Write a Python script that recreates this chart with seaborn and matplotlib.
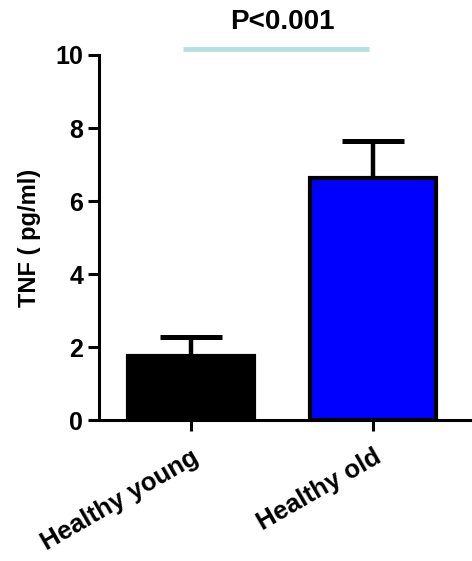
import matplotlib
matplotlib.use('Agg')
import matplotlib.pyplot as plt
import seaborn as sns
import pandas as pd

# Datos
groups = ['Healthy young', 'Healthy old']
means = [1.75, 6.62]
sems = [0.52, 1.03]
bar_colors = ['#000000', '#0000FF']
p_label = 'P<0.001'

sns.set_style('ticks')
plt.rcParams['font.family'] = ['Liberation Sans', 'DejaVu Sans']
plt.rcParams['font.weight'] = 'bold'
plt.rcParams['text.color'] = 'black'
plt.rcParams['axes.labelcolor'] = 'black'
plt.rcParams['xtick.color'] = 'black'
plt.rcParams['ytick.color'] = 'black'

df = pd.DataFrame({'group': groups, 'tnf': means})

fig = plt.figure(figsize=(4.72, 5.61), dpi=100)
ax = fig.add_axes([0.21, 0.251, 0.79, 0.651])

sns.barplot(data=df, x='group', y='tnf', hue='group', palette=bar_colors,
            saturation=1, legend=False, width=0.69, edgecolor='black',
            linewidth=3, errorbar=None, ax=ax, zorder=3)

# Barras de error (solo hacia arriba)
ax.errorbar(range(len(groups)), means, yerr=[[0] * len(sems), sems], fmt='none',
            ecolor='black', elinewidth=3.2, capsize=22, capthick=3.6, zorder=2)

ax.set_ylim(0, 10)
ax.set_xlim(-0.505, 1.544)
ax.set_yticks([0, 2, 4, 6, 8, 10])
ax.set_xlabel('')
ax.set_ylabel('TNF ( pg/ml)', fontsize=17, fontweight='bold', labelpad=10)

for side in ['top', 'right']:
    ax.spines[side].set_visible(False)
for side in ['left', 'bottom']:
    ax.spines[side].set_linewidth(2.2)
    ax.spines[side].set_color('black')

ax.tick_params(axis='both', width=2.2, length=8, labelsize=18, color='black',
               labelcolor='black')
ax.tick_params(axis='x', pad=10)
plt.setp(ax.get_xticklabels(), rotation=30, ha='right', rotation_mode='anchor',
         fontweight='bold', fontsize=18.5)
plt.setp(ax.get_yticklabels(), fontweight='bold')

# Línea de significancia
ax.plot([-0.044, 0.978], [10.16, 10.16], color='#b5dfe1', linewidth=3.5,
        clip_on=False, solid_capstyle='butt')
ax.text(0.5, 10.9, p_label, ha='center', va='center', fontsize=20,
        fontweight='bold', clip_on=False)

fig.savefig('out.png', dpi=100)
